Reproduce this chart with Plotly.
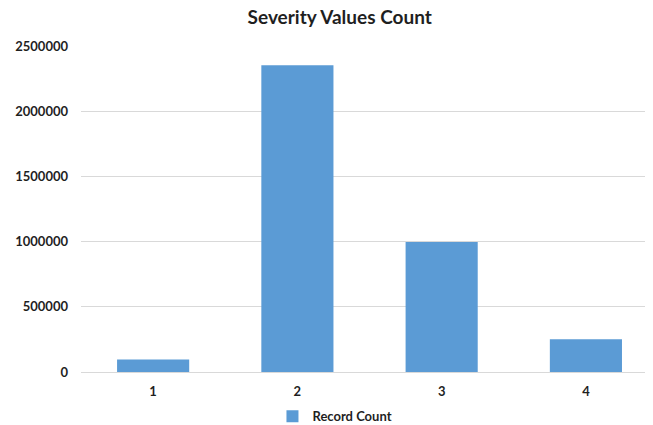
import plotly.graph_objects as go

categories = ["1", "2", "3", "4"]
record_count = [95000, 2352000, 997000, 251000]
y_ticks = [0, 500000, 1000000, 1500000, 2000000, 2500000]

FONT = "Lato"
TXT = "#1f1f1f"

# the page body adds an 8px offset, so the figure is sized 8px smaller
W, H = 645, 417

fig = go.Figure()
fig.add_trace(go.Bar(
    x=categories, y=record_count, name="<b>Record Count</b>",
    marker=dict(color="#5B9BD5", line=dict(width=0)),
))

fig.update_layout(
    width=W, height=H,
    paper_bgcolor="white", plot_bgcolor="white",
    margin=dict(l=73, r=0, t=38, b=53, autoexpand=False),
    bargap=0.5,
    font=dict(family=FONT, size=13, color=TXT),
    title=dict(text="<b>Severity Values Count</b>", x=331.7 / W, xanchor="center",
               y=1 - 3 / H, yanchor="top", xref="container", yref="container",
               pad=dict(t=0, b=0, l=0, r=0),
               font=dict(family=FONT, size=19, color=TXT)),
    showlegend=True,
    legend=dict(orientation="h", x=0.444, xanchor="center", y=-0.136, yanchor="middle",
                itemwidth=30,
                font=dict(family=FONT, size=13, color=TXT)),
    xaxis=dict(type="category", range=[-0.5, 3.465], showgrid=False, showline=False,
               automargin=False,
               ticks="", tickfont=dict(family=FONT, size=13, color=TXT),
               tickprefix="<b>", ticksuffix="</b>", ticklabelstandoff=10),
    yaxis=dict(range=[0, 2500000], tickvals=y_ticks,
               ticktext=[f"<b>{v}</b>" for v in y_ticks],
               automargin=False,
               showgrid=True, gridcolor="#D9D9D9", gridwidth=1,
               zeroline=True, zerolinecolor="#D9D9D9", zerolinewidth=1,
               showline=False, ticks="", ticklabelstandoff=12,
               tickfont=dict(family=FONT, size=13, color=TXT)),
)

fig.write_html("out.html")
